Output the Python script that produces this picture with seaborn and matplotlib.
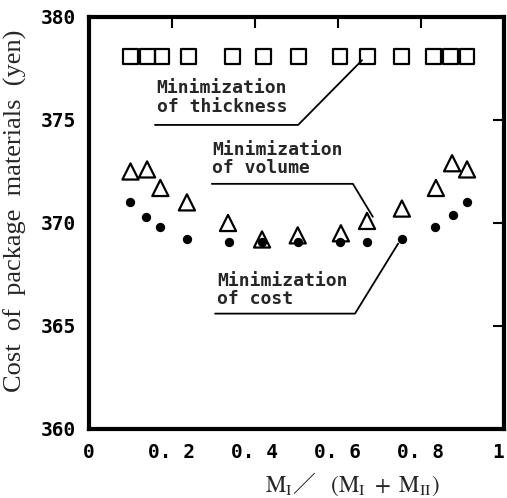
import matplotlib
matplotlib.use("Agg")
import matplotlib.pyplot as plt
import seaborn as sns
import pandas as pd

# ---- data ----
x_thick = [0.10, 0.14, 0.176, 0.24, 0.345, 0.42, 0.505, 0.605, 0.672, 0.754, 0.831, 0.872, 0.911]
y_thick = [378.1, 378.1, 378.1, 378.1, 378.1, 378.1, 378.1, 378.1, 378.1, 378.1, 378.1, 378.1, 378.1]

x_vol = [0.10, 0.14, 0.172, 0.236, 0.335, 0.417, 0.503, 0.607, 0.670, 0.754, 0.836, 0.875, 0.911]
y_vol = [372.5, 372.6, 371.7, 371.0, 370.0, 369.2, 369.4, 369.5, 370.1, 370.7, 371.7, 372.9, 372.6]

x_cost = [0.10, 0.137, 0.172, 0.236, 0.337, 0.417, 0.503, 0.605, 0.670, 0.754, 0.834, 0.877, 0.911]
y_cost = [371.0, 370.3, 369.8, 369.2, 369.1, 369.1, 369.1, 369.1, 369.1, 369.2, 369.8, 370.4, 371.0]

x_ticks = [0, 0.2, 0.4, 0.6, 0.8, 1]
x_ticklabels = ["0", "0.2", "0.4", "0.6", "0.8", "1"]
y_ticks = [360, 365, 370, 375, 380]
y_ticklabels = ["360", "365", "370", "375", "380"]

labels = ["Minimization\nof thickness", "Minimization\nof volume", "Minimization\nof cost"]

df = pd.concat([
    pd.DataFrame({"x": x_thick, "y": y_thick, "s": "thickness"}),
    pd.DataFrame({"x": x_vol, "y": y_vol, "s": "volume"}),
    pd.DataFrame({"x": x_cost, "y": y_cost, "s": "cost"}),
])

sns.set_theme(style="white")
plt.rcParams["mathtext.fontset"] = "stix"

fig = plt.figure(figsize=(5.07, 4.98), dpi=100)
ax = fig.add_axes([0.1755, 0.1386, 0.8185, 0.8273])

sns.scatterplot(data=df[df.s == "thickness"], x="x", y="y", marker="s", s=115,
                facecolor="none", edgecolor="black", linewidth=1.6, ax=ax, zorder=3)
sns.scatterplot(data=df[df.s == "volume"], x="x", y="y", marker="^", s=135,
                facecolor="none", edgecolor="black", linewidth=1.6, ax=ax, zorder=3)
sns.scatterplot(data=df[df.s == "cost"], x="x", y="y", marker="o", s=45,
                color="black", edgecolor="black", linewidth=0, ax=ax, zorder=4)

ax.set_xlim(0, 1)
ax.set_ylim(360, 380)
ax.set_xticks(x_ticks)
ax.set_yticks(y_ticks)
tick_font = dict(family="DejaVu Sans Mono", weight="bold", size=14)
ax.set_xticklabels([t.replace(".", ". ") for t in x_ticklabels], fontdict=tick_font)
ax.set_yticklabels(y_ticklabels, fontdict=tick_font)
ax.tick_params(axis="both", direction="in", length=8, width=1.5, top=True, right=True,
               labeltop=False, labelright=False, colors="black")
ax.tick_params(axis="x", pad=10)
ax.tick_params(axis="y", pad=9)
lbls = ax.get_xticklabels()
lbls[-1].set_horizontalalignment("right")
lbls[-1].set_x(1.0)

for sp in ax.spines.values():
    sp.set_linewidth(3)
    sp.set_color("black")

ax.set_xlabel(r"$\mathrm{M_I}$／   $(\mathrm{M_I}\ +\ \mathrm{M_{II}})$",
              fontsize=16.5, family=["Noto Sans CJK JP", "DejaVu Sans"], va="center")
ax.xaxis.set_label_coords(0.634, -0.133)
ax.set_ylabel("Cost  of  package  materials  (yen)", fontsize=19,
              family="Liberation Serif", va="center")
ax.yaxis.set_label_coords(-0.178, 0.53)

ann_font = dict(family="DejaVu Sans Mono", fontsize=13, weight="bold", linespacing=1.05)

# thickness
ax.text(0.163, 376.1, labels[0], ha="left", va="center", **ann_font)
ax.plot([0.159, 0.504, 0.658], [374.76, 374.76, 377.9], color="black", lw=1.3)
# volume
ax.text(0.296, 373.1, labels[1], ha="left", va="center", **ann_font)
ax.plot([0.296, 0.636, 0.684], [371.9, 371.9, 370.3], color="black", lw=1.3)
# cost
ax.text(0.308, 366.75, labels[2], ha="left", va="center", **ann_font)
ax.plot([0.304, 0.641, 0.745], [365.6, 365.6, 369.0], color="black", lw=1.3)

fig.savefig("out.png", dpi=100)
